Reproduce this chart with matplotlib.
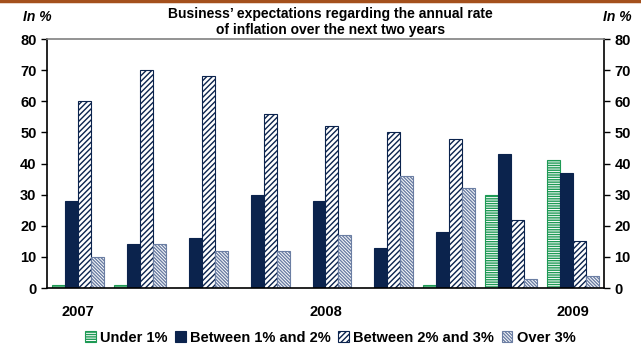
import matplotlib.pyplot as plt
import numpy as np

plt.rcParams['font.family'] = ['Liberation Sans', 'DejaVu Sans']
plt.rcParams['hatch.linewidth'] = 1.0

# survey rounds, three years shown on the axis
rounds = np.arange(9)
year_pos = [0, 4, 8]
year_labels = ['2007', '2008', '2009']

under_1 = [1, 1, 0, 0, 0, 0, 1, 30, 41]
btw_1_2 = [28, 14, 16, 30, 28, 13, 18, 43, 37]
btw_2_3 = [60, 70, 68, 56, 52, 50, 48, 22, 15]
over_3 = [10, 14, 12, 12, 17, 36, 32, 3, 4]

navy = '#0b234d'
green = '#1e9a55'

fig = plt.figure(figsize=(6.41, 3.47), dpi=100)
ax = fig.add_axes([0.0733, 0.170, 0.869, 0.7176])

w = 0.21
ax.bar(rounds - 1.5*w, under_1, w, color='white', edgecolor=green, hatch='-------',
       linewidth=0.8, label='Under 1%')
ax.bar(rounds - 0.5*w, btw_1_2, w, color=navy, edgecolor=navy,
       linewidth=0.8, label='Between 1% and 2%')
ax.bar(rounds + 0.5*w, btw_2_3, w, color='white', edgecolor=navy, hatch='//////',
       linewidth=0.8, label='Between 2% and 3%')
ax.bar(rounds + 1.5*w, over_3, w, color='white', edgecolor='#6b7ea3',
       hatch='\\\\\\\\\\\\\\\\\\\\', linewidth=0.8, label='Over 3%')

ax.set_xlim(-0.5, 8.5)
ax.set_ylim(0, 80)
ax.set_yticks(range(0, 81, 10))
ax.set_xticks(year_pos)
ax.set_xticklabels(year_labels, fontsize=10.5, fontweight='bold')
ax.tick_params(axis='x', length=0, pad=12)
ax.tick_params(axis='y', which='both', direction='out', length=4, width=1,
               labelsize=10.5, left=True, right=True, labelleft=True, labelright=True)
for lab in ax.get_yticklabels():
    lab.set_fontweight('bold')

for side in ['left', 'right', 'bottom']:
    ax.spines[side].set_color('black')
    ax.spines[side].set_linewidth(1.2)
ax.spines['top'].set_color('#808080')
ax.spines['top'].set_linewidth(1.2)

fig.text(0.515, 0.98, "Business’ expectations regarding the annual rate\nof inflation over the next two years",
         ha='center', va='top', fontsize=10, fontweight='bold', linespacing=1.2)
fig.text(0.036, 0.95, 'In %', ha='left', va='center', fontsize=10, fontweight='bold', style='italic')
fig.text(0.985, 0.95, 'In %', ha='right', va='center', fontsize=10, fontweight='bold', style='italic')

# orange rule along the top edge
fig.add_artist(plt.Line2D([0, 1], [0.997, 0.997], color='#a4501c', linewidth=2.5,
                          transform=fig.transFigure))

leg = fig.legend(loc='center', bbox_to_anchor=(0.515, 0.027), ncol=4, frameon=False,
                 prop={'weight': 'bold', 'size': 10.5}, handlelength=0.75, handleheight=0.75,
                 handletextpad=0.3, columnspacing=0.5, borderpad=0)
for t in leg.get_texts():
    t.set_fontweight('bold')

fig.savefig('out.png', dpi=100)
